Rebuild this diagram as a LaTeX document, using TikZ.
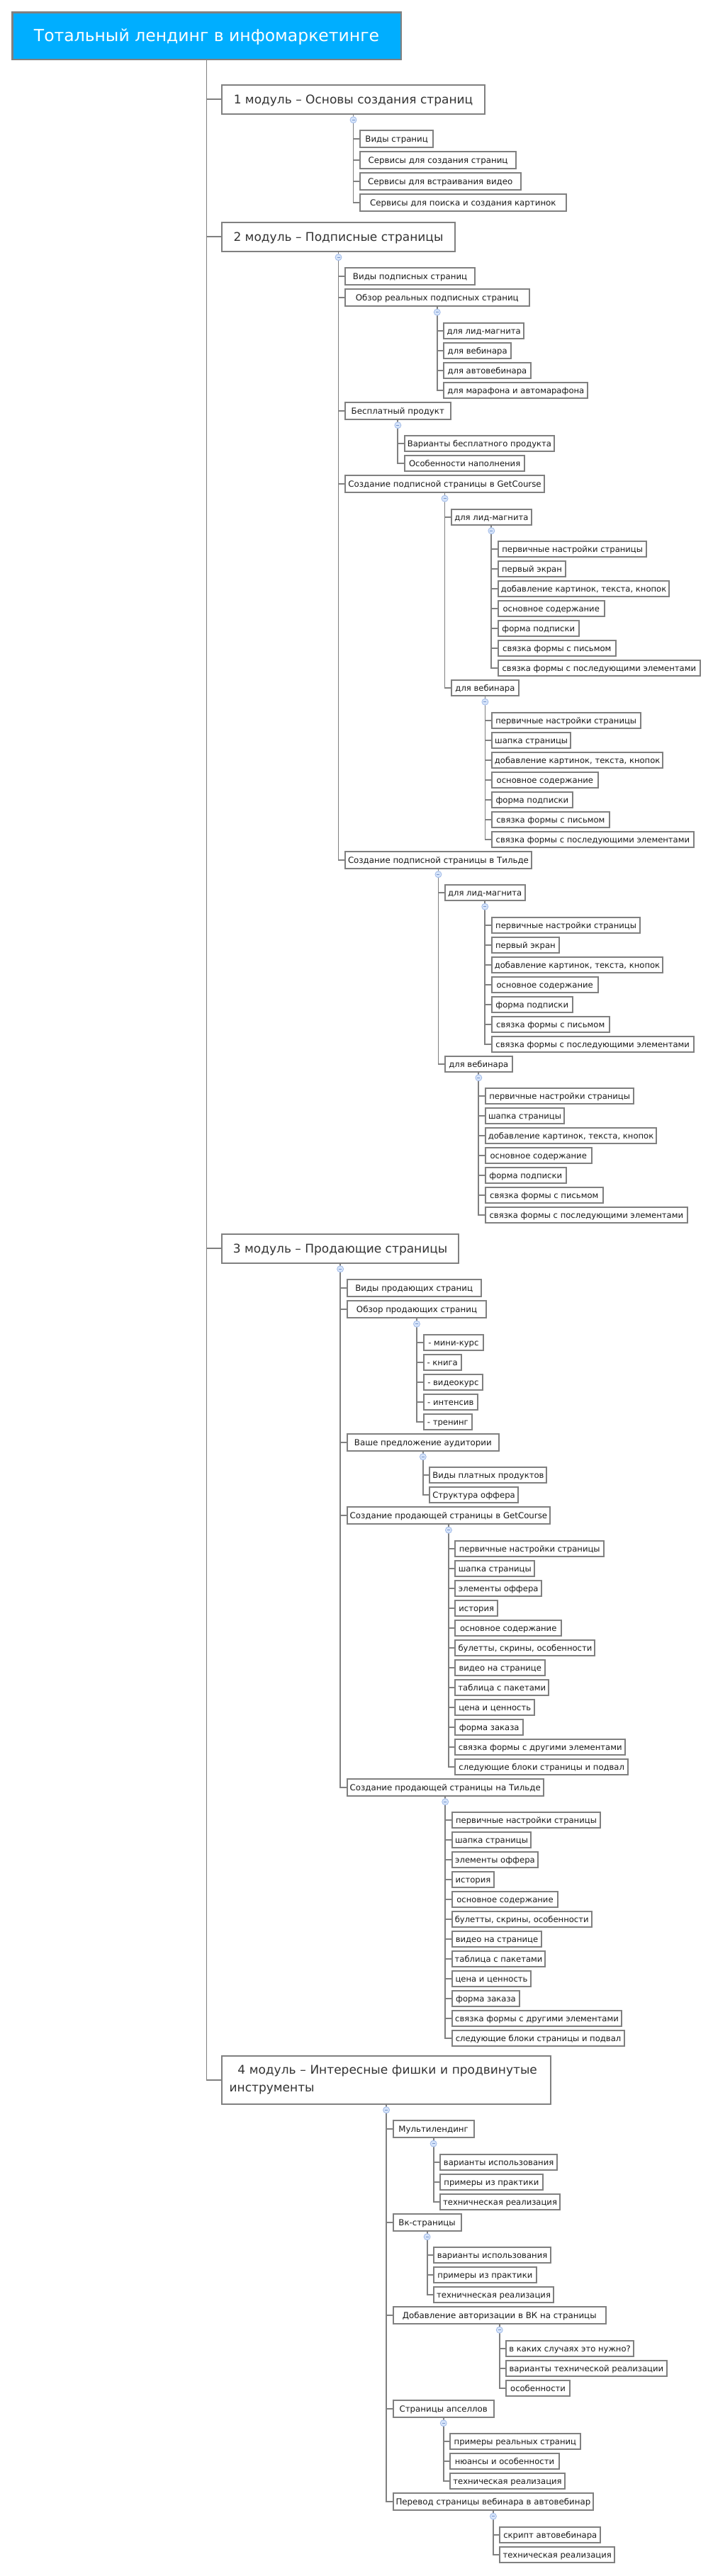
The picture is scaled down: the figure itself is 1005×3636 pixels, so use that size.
\documentclass[tikz,border=0pt]{standalone}
\usepackage{fontspec}
\setmainfont{DejaVu Sans}
\definecolor{rootblue}{RGB}{0,174,255}
\definecolor{edge}{RGB}{128,128,128}
\definecolor{txt}{RGB}{26,26,26}
\definecolor{modtxt}{RGB}{51,51,51}
\definecolor{mkfill}{RGB}{214,228,250}
\definecolor{mkline}{RGB}{160,186,232}
\definecolor{mkdash}{RGB}{120,150,205}
\tikzset{
 box/.style={draw=edge, line width=2pt, fill=white, rectangle, text=txt, inner ysep=0pt, outer sep=1pt},
 lb/.style={box, font=\fontsize{11.8}{14}\selectfont, inner xsep=4pt, minimum height=24pt, text height=10pt, text depth=1pt},
 lc/.style={box, font=\fontsize{11.6}{14}\selectfont, inner xsep=4pt, minimum height=22pt, text height=9.6pt, text depth=0.8pt},
 modbase/.style={box, text=modtxt, font=\fontsize{17}{24.7}\selectfont, inner xsep=10pt},
 modbox/.style={modbase, minimum height=41pt, text height=14pt, text depth=0.6pt},
 rootbox/.style={draw=edge, line width=2.5pt, outer sep=1.25pt, fill=rootblue, text=white, font=\fontsize{23.5}{28}\selectfont, minimum width=548.5pt, minimum height=66.5pt, text height=17pt, text depth=1.4pt, inner sep=0pt},
 conn/.style={draw=edge, line width=1.8pt},
 marker/.style={circle, draw=mkline, fill=mkfill, line width=0.8pt, minimum size=9pt, inner sep=0pt, outer sep=0pt,
   path picture={\draw[mkdash, line width=0.7pt] ([xshift=-2pt]path picture bounding box.center) -- ([xshift=2pt]path picture bounding box.center);}},
}
% #1 style, #2 name, #3 parent, #4 previous box, #5 gap, #6 width, #7 text
\newcommand\nd[7]{\node[#1,minimum width=#6pt,anchor=north west,xshift=8.5pt,yshift=-#5pt] (#2) at (#3.south |- #4.south) {#7};\draw[conn] (#3.south) |- (#2.west);}
\newcommand\mk[1]{\node[marker] (mk#1) at ([yshift=-7.5pt]#1.south) {};}
\begin{document}
\begin{tikzpicture}[x=1pt,y=-1pt]
\fill[white] (0,0) rectangle (1005,3636);
\useasboundingbox (0,0) rectangle (1005,3636);
\node[rootbox,anchor=north west] (root) at (16,16) {Тотальный лендинг в инфомаркетинге};
% ---------- module 1
\node[modbox,minimum width=371pt,anchor=north west] (m1) at (312,118.7) {1 модуль – Основы создания страниц};
\draw[conn] (root.south) |- (m1.west);
\nd{lb}{a1}{m1}{m1}{21.5}{103.3}{Виды страниц}
\nd{lb}{a2}{m1}{a1}{4}{220.1}{Сервисы для создания страниц}
\nd{lb}{a3}{m1}{a2}{4}{226.5}{Сервисы для встраивания видео}
\nd{lb}{a4}{m1}{a3}{4}{290.7}{Сервисы для поиска и создания картинок}
% ---------- module 2
\node[modbox,minimum width=329pt,anchor=north west] (m2) at (312,312.7) {2 модуль – Подписные страницы};
\draw[conn] (root.south) |- (m2.west);
\nd{lb}{b1}{m2}{m2}{21.5}{183.2}{Виды подписных страниц}
\nd{lb}{b2}{m2}{b1}{4}{259.6}{Обзор реальных подписных страниц}
\nd{lc}{b21}{b2}{b2}{21.5}{112.6}{для лид-магнита}
\nd{lc}{b22}{b2}{b21}{4}{94.8}{для вебинара}
\nd{lc}{b23}{b2}{b22}{4}{122.3}{для автовебинара}
\nd{lc}{b24}{b2}{b23}{4}{203.1}{для марафона и автомарафона}
\nd{lb}{b3}{m2}{b24}{4}{148.7}{Бесплатный продукт}
\nd{lc}{b31}{b3}{b3}{21.5}{209.6}{Варианты бесплатного продукта}
\nd{lc}{b32}{b3}{b31}{4}{169.6}{Особенности наполнения}
\nd{lb}{b4}{m2}{b32}{4}{281.1}{Создание подписной страницы в GetCourse}
\nd{lc}{b41}{b4}{b4}{21.5}{112.6}{для лид-магнита}
\nd{lc}{b411}{b41}{b41}{21.5}{209.6}{первичные настройки страницы}
\nd{lc}{b412}{b41}{b411}{4}{95.3}{первый экран}
\nd{lc}{b413}{b41}{b412}{4}{241}{добавление картинок, текста, кнопок}
\nd{lc}{b414}{b41}{b413}{4}{149.8}{основное содержание}
\nd{lc}{b415}{b41}{b414}{4}{113.9}{форма подписки}
\nd{lc}{b416}{b41}{b415}{4}{165.9}{связка формы с письмом}
\nd{lc}{b417}{b41}{b416}{4}{284.9}{связка формы с последующими элементами}
\nd{lc}{b42}{b4}{b417}{4}{94.8}{для вебинара}
\nd{lc}{b421}{b42}{b42}{21.5}{209.6}{первичные настройки страницы}
\nd{lc}{b422}{b42}{b421}{4}{111.4}{шапка страницы}
\nd{lc}{b423}{b42}{b422}{4}{241}{добавление картинок, текста, кнопок}
\nd{lc}{b424}{b42}{b423}{4}{149.8}{основное содержание}
\nd{lc}{b425}{b42}{b424}{4}{113.9}{форма подписки}
\nd{lc}{b426}{b42}{b425}{4}{165.9}{связка формы с письмом}
\nd{lc}{b427}{b42}{b426}{4}{284.9}{связка формы с последующими элементами}
\nd{lb}{b5}{m2}{b427}{4}{261.7}{Создание подписной страницы в Тильде}
\nd{lc}{b51}{b5}{b5}{21.5}{112.6}{для лид-магнита}
\nd{lc}{b511}{b51}{b51}{21.5}{209.6}{первичные настройки страницы}
\nd{lc}{b512}{b51}{b511}{4}{95.3}{первый экран}
\nd{lc}{b513}{b51}{b512}{4}{241}{добавление картинок, текста, кнопок}
\nd{lc}{b514}{b51}{b513}{4}{149.8}{основное содержание}
\nd{lc}{b515}{b51}{b514}{4}{113.9}{форма подписки}
\nd{lc}{b516}{b51}{b515}{4}{165.9}{связка формы с письмом}
\nd{lc}{b517}{b51}{b516}{4}{284.9}{связка формы с последующими элементами}
\nd{lc}{b52}{b5}{b517}{4}{94.8}{для вебинара}
\nd{lc}{b521}{b52}{b52}{21.5}{209.6}{первичные настройки страницы}
\nd{lc}{b522}{b52}{b521}{4}{111.4}{шапка страницы}
\nd{lc}{b523}{b52}{b522}{4}{241}{добавление картинок, текста, кнопок}
\nd{lc}{b524}{b52}{b523}{4}{149.8}{основное содержание}
\nd{lc}{b525}{b52}{b524}{4}{113.9}{форма подписки}
\nd{lc}{b526}{b52}{b525}{4}{165.9}{связка формы с письмом}
\nd{lc}{b527}{b52}{b526}{4}{284.9}{связка формы с последующими элементами}
% ---------- module 3
\node[modbox,minimum width=334.3pt,anchor=north west] (m3) at (312,1740.7) {3 модуль – Продающие страницы};
\draw[conn] (root.south) |- (m3.west);
\nd{lb}{c1}{m3}{m3}{21.5}{189}{Виды продающих страниц}
\nd{lb}{c2}{m3}{c1}{4}{196.7}{Обзор продающих страниц}
\nd{lc}{c21}{c2}{c2}{21.5}{84.7}{- мини-курс}
\nd{lc}{c22}{c2}{c21}{4}{53.3}{- книга}
\nd{lc}{c23}{c2}{c22}{4}{83.7}{- видеокурс}
\nd{lc}{c24}{c2}{c23}{4}{76.7}{- интенсив}
\nd{lc}{c25}{c2}{c24}{4}{68.7}{- тренинг}
\nd{lb}{c3}{m3}{c25}{4}{214.3}{Ваше предложение аудитории}
\nd{lc}{c31}{c3}{c3}{21.5}{165}{Виды платных продуктов}
\nd{lc}{c32}{c3}{c31}{4}{123.7}{Структура оффера}
\nd{lb}{c4}{m3}{c32}{4}{286.3}{Создание продающей страницы в GetCourse}
\nd{lc}{c401}{c4}{c4}{21.5}{209.6}{первичные настройки страницы}
\nd{lc}{c402}{c4}{c401}{4}{111.6}{шапка страницы}
\nd{lc}{c403}{c4}{c402}{4}{121.6}{элементы оффера}
\nd{lc}{c404}{c4}{c403}{4}{59.6}{история}
\nd{lc}{c405}{c4}{c404}{4}{149.6}{основное содержание}
\nd{lc}{c406}{c4}{c405}{4}{197}{булетты, скрины, особенности}
\nd{lc}{c407}{c4}{c406}{4}{126.6}{видео на странице}
\nd{lc}{c408}{c4}{c407}{4}{131.6}{таблица с пакетами}
\nd{lc}{c409}{c4}{c408}{4}{111.6}{цена и ценность}
\nd{lc}{c410}{c4}{c409}{4}{95.6}{форма заказа}
\nd{lc}{c411}{c4}{c410}{4}{239.6}{связка формы с другими элементами}
\nd{lc}{c412}{c4}{c411}{4}{243.6}{следующие блоки страницы и подвал}
\nd{lb}{c5}{m3}{c412}{4}{273}{Создание продающей страницы на Тильде}
\nd{lc}{c501}{c5}{c5}{21.5}{209.6}{первичные настройки страницы}
\nd{lc}{c502}{c5}{c501}{4}{111.6}{шапка страницы}
\nd{lc}{c503}{c5}{c502}{4}{121.6}{элементы оффера}
\nd{lc}{c504}{c5}{c503}{4}{59.6}{история}
\nd{lc}{c505}{c5}{c504}{4}{149.6}{основное содержание}
\nd{lc}{c506}{c5}{c505}{4}{197}{булетты, скрины, особенности}
\nd{lc}{c507}{c5}{c506}{4}{126.6}{видео на странице}
\nd{lc}{c508}{c5}{c507}{4}{131.6}{таблица с пакетами}
\nd{lc}{c509}{c5}{c508}{4}{111.6}{цена и ценность}
\nd{lc}{c510}{c5}{c509}{4}{95.6}{форма заказа}
\nd{lc}{c511}{c5}{c510}{4}{239.6}{связка формы с другими элементами}
\nd{lc}{c512}{c5}{c511}{4}{243.6}{следующие блоки страницы и подвал}
% ---------- module 4
\node[modbase,anchor=north west,align=left,text width=443pt,minimum height=68pt,inner xsep=10.6pt] (m4) at (312,2900.7)
  {\mbox{\hspace*{11.7pt}4 модуль – Интересные фишки и продвинутые}\\инструменты};
\draw[conn] (root.south) |- (m4.west);
\nd{lb}{d1}{m4}{m4}{21.5}{114}{Мультилендинг}
\nd{lc}{d11}{d1}{d1}{21.5}{165}{варианты использования}
\nd{lc}{d12}{d1}{d11}{4}{144.5}{примеры из практики}
\nd{lc}{d13}{d1}{d12}{4}{168.3}{техничнеская реализация}
\nd{lb}{d2}{m4}{d13}{4}{96}{Вк-страницы}
\nd{lc}{d21}{d2}{d2}{21.5}{165}{варианты использования}
\nd{lc}{d22}{d2}{d21}{4}{144.5}{примеры из практики}
\nd{lc}{d23}{d2}{d22}{4}{168.3}{техничнеская реализация}
\nd{lb}{d3}{m4}{d23}{4}{300.3}{Добавление авторизации в ВК на страницы}
\nd{lc}{d31}{d3}{d3}{21.5}{178.3}{в каких случаях это нужно?}
\nd{lc}{d32}{d3}{d31}{4}{226.3}{варианты технической реализации}
\nd{lc}{d33}{d3}{d32}{4}{89.6}{особенности}
\nd{lb}{d4}{m4}{d33}{4}{142.3}{Страницы апселлов}
\nd{lc}{d41}{d4}{d4}{21.5}{183.3}{примеры реальных страниц}
\nd{lc}{d42}{d4}{d41}{4}{153.3}{нюансы и особенности}
\nd{lc}{d43}{d4}{d42}{4}{161.5}{техническая реализация}
\nd{lb}{d5}{m4}{d43}{4}{282.3}{Перевод страницы вебинара в автовебинар}
\nd{lc}{d51}{d5}{d5}{21.5}{141.7}{скрипт автовебинара}
\nd{lc}{d52}{d5}{d51}{4}{161.5}{техническая реализация}
% ---------- collapse markers
\mk{m1}\mk{m2}\mk{b2}\mk{b3}\mk{b4}\mk{b41}\mk{b42}\mk{b5}\mk{b51}\mk{b52}
\mk{m3}\mk{c2}\mk{c3}\mk{c4}\mk{c5}
\mk{m4}\mk{d1}\mk{d2}\mk{d3}\mk{d4}\mk{d5}
\end{tikzpicture}
\end{document}
